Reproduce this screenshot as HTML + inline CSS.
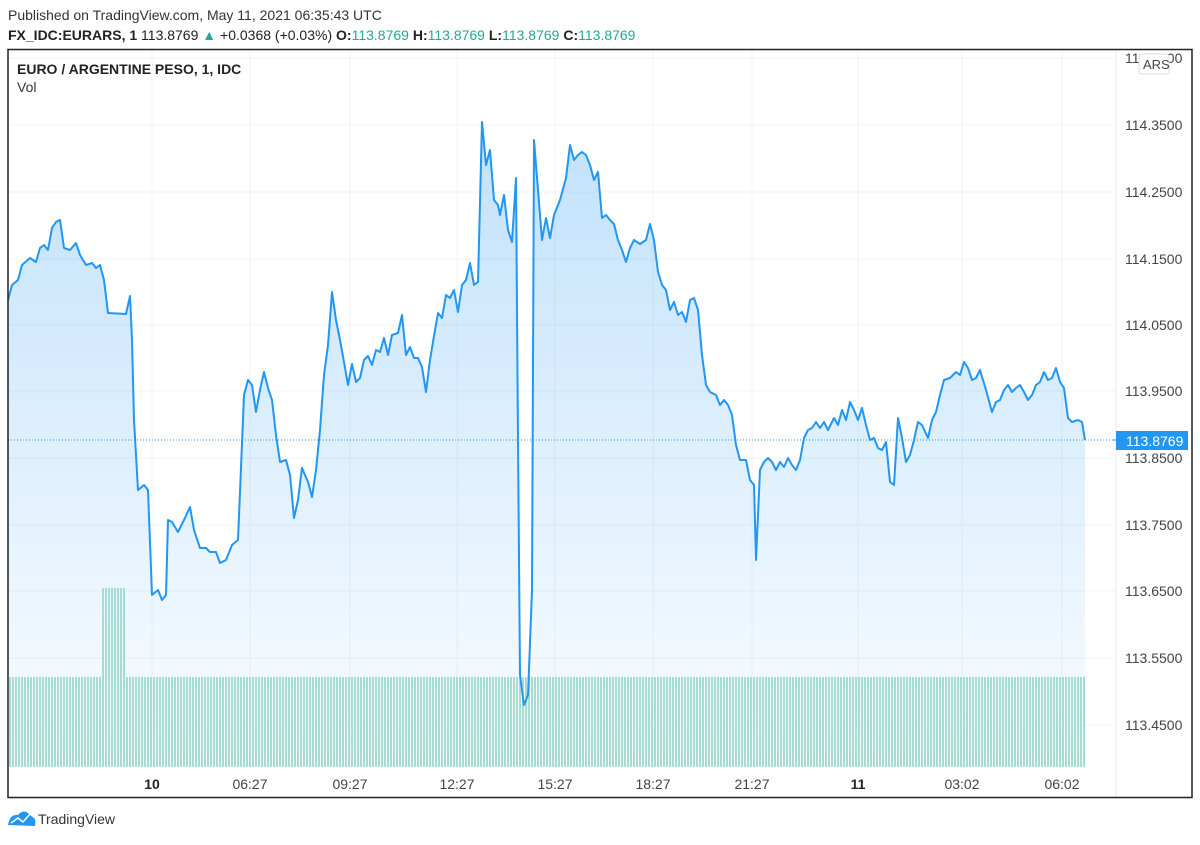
<!DOCTYPE html>
<html><head><meta charset="utf-8"><style>
body{margin:0;background:#fff;width:1200px;height:840px;overflow:hidden;font-family:"Liberation Sans",sans-serif}
</style></head><body>
<svg width="1200" height="840" xmlns="http://www.w3.org/2000/svg" font-family="Liberation Sans, sans-serif">
<defs>
<linearGradient id="g" x1="0" y1="0" x2="0" y2="1"><stop offset="0" stop-color="#2196f3" stop-opacity="0.28"/><stop offset="1" stop-color="#2196f3" stop-opacity="0.02"/></linearGradient>
<pattern id="vb" width="3" height="10" patternUnits="userSpaceOnUse"><rect x="0" y="0" width="2" height="10" fill="#a6dcd2"/></pattern>
</defs>
<text x="8" y="20" font-size="14" fill="#333">Published on TradingView.com, May 11, 2021 06:35:43 UTC</text>
<text x="8" y="40" font-size="14" fill="#222"><tspan font-weight="bold">FX_IDC:EURARS, 1</tspan> 113.8769 <tspan fill="#26a69a">▲</tspan> +0.0368 (+0.03%) <tspan font-weight="bold">O:</tspan><tspan fill="#26a69a">113.8769</tspan> <tspan font-weight="bold">H:</tspan><tspan fill="#26a69a">113.8769</tspan> <tspan font-weight="bold">L:</tspan><tspan fill="#26a69a">113.8769</tspan> <tspan font-weight="bold">C:</tspan><tspan fill="#26a69a">113.8769</tspan></text>
<g stroke="#f0f3f6" stroke-width="1">
<line x1="152" y1="50" x2="152" y2="768"/><line x1="250" y1="50" x2="250" y2="768"/><line x1="350" y1="50" x2="350" y2="768"/><line x1="457" y1="50" x2="457" y2="768"/><line x1="555" y1="50" x2="555" y2="768"/><line x1="653" y1="50" x2="653" y2="768"/><line x1="752" y1="50" x2="752" y2="768"/><line x1="858" y1="50" x2="858" y2="768"/><line x1="962" y1="50" x2="962" y2="768"/><line x1="1062" y1="50" x2="1062" y2="768"/>
<line x1="8" y1="58" x2="1116" y2="58"/><line x1="8" y1="125" x2="1116" y2="125"/><line x1="8" y1="192" x2="1116" y2="192"/><line x1="8" y1="259" x2="1116" y2="259"/><line x1="8" y1="325" x2="1116" y2="325"/><line x1="8" y1="391" x2="1116" y2="391"/><line x1="8" y1="458" x2="1116" y2="458"/><line x1="8" y1="525" x2="1116" y2="525"/><line x1="8" y1="591" x2="1116" y2="591"/><line x1="8" y1="658" x2="1116" y2="658"/><line x1="8" y1="725" x2="1116" y2="725"/>
</g>
<path id="p" d="M8,300 L12,285 L18,280 L22,265 L30,258 L36,262 L40,248 L44,245 L48,250 L52,228 L56,222 L60,220 L64,248 L70,250 L76,243 L80,255 L86,265 L92,263 L96,268 L100,265 L104,280 L108,313 L126,314 L130,296 L132,340 L134,420 L138,490 L144,485 L148,490 L152,595 L158,590 L162,600 L166,595 L168,520 L172,522 L178,532 L184,520 L190,507 L194,530 L200,548 L206,548 L210,552 L216,552 L220,563 L226,560 L232,545 L238,540 L244,395 L248,380 L252,385 L256,412 L260,390 L264,372 L268,388 L272,400 L276,435 L280,462 L286,460 L290,475 L294,518 L298,500 L302,468 L308,482 L312,497 L316,470 L320,430 L324,375 L328,345 L332,292 L336,320 L340,340 L344,362 L348,385 L352,364 L356,382 L360,378 L364,360 L368,356 L372,365 L376,350 L380,352 L384,338 L388,355 L392,335 L398,333 L402,315 L406,355 L410,347 L414,358 L418,358 L422,367 L426,392 L430,360 L434,336 L438,313 L442,318 L446,295 L450,298 L454,290 L458,312 L462,285 L466,280 L470,263 L474,285 L478,282 L482,122 L486,165 L490,150 L494,200 L498,205 L500,215 L504,195 L508,230 L512,242 L516,178 L518,440 L520,675 L524,705 L528,695 L532,590 L534,140 L538,190 L542,240 L546,218 L550,238 L554,215 L560,200 L566,178 L570,145 L574,160 L578,155 L582,152 L586,155 L590,165 L594,180 L598,172 L602,218 L606,215 L610,220 L614,224 L618,240 L622,250 L626,262 L630,248 L634,240 L640,244 L646,240 L650,224 L654,240 L658,272 L662,285 L666,290 L670,310 L674,302 L678,315 L682,312 L686,322 L690,300 L694,298 L698,310 L702,355 L706,385 L710,392 L716,395 L720,405 L724,400 L728,405 L732,415 L736,445 L740,460 L746,460 L750,480 L754,485 L756,560 L760,470 L764,462 L768,458 L772,462 L776,470 L780,462 L784,467 L788,458 L792,465 L796,470 L800,460 L804,438 L808,430 L812,428 L816,422 L820,428 L824,422 L828,430 L834,418 L838,425 L842,410 L846,420 L850,402 L854,410 L858,420 L862,408 L866,425 L870,440 L874,438 L878,448 L882,450 L886,442 L890,482 L894,485 L898,418 L902,438 L906,462 L910,455 L914,440 L918,422 L922,425 L928,438 L932,420 L936,412 L940,395 L944,380 L950,378 L956,372 L960,375 L964,362 L968,368 L972,380 L976,378 L980,370 L986,390 L992,412 L996,402 L1000,400 L1004,390 L1008,385 L1012,392 L1016,388 L1020,385 L1024,392 L1028,400 L1032,395 L1036,385 L1040,382 L1044,372 L1048,380 L1052,378 L1056,368 L1060,382 L1064,388 L1068,418 L1072,422 L1078,420 L1082,422 L1085,440" fill="none"/>
<path d="M8,300 L12,285 L18,280 L22,265 L30,258 L36,262 L40,248 L44,245 L48,250 L52,228 L56,222 L60,220 L64,248 L70,250 L76,243 L80,255 L86,265 L92,263 L96,268 L100,265 L104,280 L108,313 L126,314 L130,296 L132,340 L134,420 L138,490 L144,485 L148,490 L152,595 L158,590 L162,600 L166,595 L168,520 L172,522 L178,532 L184,520 L190,507 L194,530 L200,548 L206,548 L210,552 L216,552 L220,563 L226,560 L232,545 L238,540 L244,395 L248,380 L252,385 L256,412 L260,390 L264,372 L268,388 L272,400 L276,435 L280,462 L286,460 L290,475 L294,518 L298,500 L302,468 L308,482 L312,497 L316,470 L320,430 L324,375 L328,345 L332,292 L336,320 L340,340 L344,362 L348,385 L352,364 L356,382 L360,378 L364,360 L368,356 L372,365 L376,350 L380,352 L384,338 L388,355 L392,335 L398,333 L402,315 L406,355 L410,347 L414,358 L418,358 L422,367 L426,392 L430,360 L434,336 L438,313 L442,318 L446,295 L450,298 L454,290 L458,312 L462,285 L466,280 L470,263 L474,285 L478,282 L482,122 L486,165 L490,150 L494,200 L498,205 L500,215 L504,195 L508,230 L512,242 L516,178 L518,440 L520,675 L524,705 L528,695 L532,590 L534,140 L538,190 L542,240 L546,218 L550,238 L554,215 L560,200 L566,178 L570,145 L574,160 L578,155 L582,152 L586,155 L590,165 L594,180 L598,172 L602,218 L606,215 L610,220 L614,224 L618,240 L622,250 L626,262 L630,248 L634,240 L640,244 L646,240 L650,224 L654,240 L658,272 L662,285 L666,290 L670,310 L674,302 L678,315 L682,312 L686,322 L690,300 L694,298 L698,310 L702,355 L706,385 L710,392 L716,395 L720,405 L724,400 L728,405 L732,415 L736,445 L740,460 L746,460 L750,480 L754,485 L756,560 L760,470 L764,462 L768,458 L772,462 L776,470 L780,462 L784,467 L788,458 L792,465 L796,470 L800,460 L804,438 L808,430 L812,428 L816,422 L820,428 L824,422 L828,430 L834,418 L838,425 L842,410 L846,420 L850,402 L854,410 L858,420 L862,408 L866,425 L870,440 L874,438 L878,448 L882,450 L886,442 L890,482 L894,485 L898,418 L902,438 L906,462 L910,455 L914,440 L918,422 L922,425 L928,438 L932,420 L936,412 L940,395 L944,380 L950,378 L956,372 L960,375 L964,362 L968,368 L972,380 L976,378 L980,370 L986,390 L992,412 L996,402 L1000,400 L1004,390 L1008,385 L1012,392 L1016,388 L1020,385 L1024,392 L1028,400 L1032,395 L1036,385 L1040,382 L1044,372 L1048,380 L1052,378 L1056,368 L1060,382 L1064,388 L1068,418 L1072,422 L1078,420 L1082,422 L1085,440 L1085,768 L8,768 Z" fill="url(#g)"/>
<rect x="8" y="677" width="1077" height="90" fill="url(#vb)"/>
<rect x="101" y="588" width="25" height="89" fill="url(#vb)"/>
<use href="#p" stroke="#2196f3" stroke-width="2" stroke-linejoin="round"/>
<line x1="8" y1="440" x2="1116" y2="440" stroke="#2196f3" stroke-width="1" stroke-dasharray="1,2"/>
<line x1="1116" y1="50" x2="1116" y2="798" stroke="#e8eaee"/>
<g font-size="14" fill="#444">
<text x="1125" y="63">114.4500</text><text x="1125" y="130">114.3500</text><text x="1125" y="197">114.2500</text><text x="1125" y="264">114.1500</text><text x="1125" y="330">114.0500</text><text x="1125" y="396">113.9500</text><text x="1125" y="463">113.8500</text><text x="1125" y="530">113.7500</text><text x="1125" y="596">113.6500</text><text x="1125" y="663">113.5500</text><text x="1125" y="730">113.4500</text>
</g>
<rect x="1139" y="54" width="30" height="20" rx="3" fill="#fff" stroke="#ddd"/>
<text x="1143" y="69" font-size="13" fill="#444">ARS</text>
<rect x="1116" y="431" width="72" height="19" fill="#2196f3"/>
<line x1="1112" y1="440" x2="1120" y2="440" stroke="#2196f3"/>
<text x="1126" y="446" font-size="14" fill="#fff">113.8769</text>
<g font-size="14" fill="#444" text-anchor="middle">
<text x="152" y="789" font-weight="bold" fill="#222">10</text><text x="250" y="789">06:27</text><text x="350" y="789">09:27</text><text x="457" y="789">12:27</text><text x="555" y="789">15:27</text><text x="653" y="789">18:27</text><text x="752" y="789">21:27</text><text x="858" y="789" font-weight="bold" fill="#222">11</text><text x="962" y="789">03:02</text><text x="1062" y="789">06:02</text>
</g>
<text x="17" y="74" font-size="14" font-weight="bold" fill="#222">EURO / ARGENTINE PESO, 1, IDC</text>
<text x="17" y="92" font-size="14" fill="#333">Vol</text>
<rect x="8" y="49.5" width="1184" height="748" fill="none" stroke="#222" stroke-width="1.5"/>
<path d="M8,825 Q10,814 18,815 Q24,808 30,815 L34,818 Q36,820 35,826 Z" fill="#2196f3"/>
<path d="M11,823 L18,818 L23,822 L30,814" fill="none" stroke="#fff" stroke-width="1.5"/>
<text x="38" y="824" font-size="14" fill="#333">TradingView</text>
</svg>
</body></html>
